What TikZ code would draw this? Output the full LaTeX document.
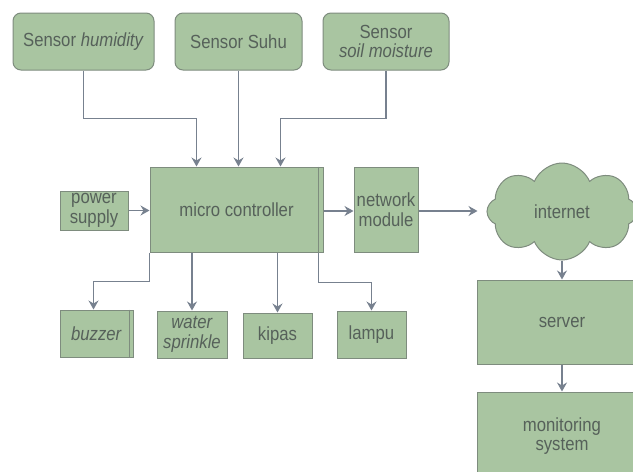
\documentclass[tikz,border=0pt]{standalone}
\usepackage{fontspec}
\setmainfont[FakeStretch=0.88]{Liberation Sans}
\usetikzlibrary{arrows.meta,shapes.symbols,calc}
\definecolor{boxfill}{HTML}{A9C5A1}
\definecolor{boxline}{HTML}{7E8C7E}
\definecolor{arrcol}{HTML}{77818F}
\definecolor{txt}{HTML}{56615A}
\tikzset{
  blk/.style={draw=boxline, fill=boxfill, line width=1pt, inner sep=0pt, align=center,
    text=txt, font=\fontsize{19}{19.5}\selectfont},
  rblk/.style={blk, rounded corners=8pt},
  arr/.style={draw=arrcol, line width=1.3pt, -{Stealth[length=9pt,width=10pt,inset=3pt]}},
}
\begin{document}
\begin{tikzpicture}[x=1pt,y=-1pt]
\useasboundingbox (0,0) rectangle (633,472);
\clip (0,0) rectangle (633,472);
% sensors
\node[rblk, minimum width=141pt, minimum height=57pt] (hum) at (83.5,41.5) {Sensor \textit{humidity}};
\node[rblk, minimum width=127pt, minimum height=57pt] (suhu) at (238.5,41.5) {Sensor Suhu};
\node[rblk, minimum width=126pt, minimum height=57pt] (soil) at (386,41.5) {Sensor\\\textit{soil moisture}};
% main row
\node[blk, minimum width=173pt, minimum height=85pt] (mc) at (236.5,209.5) {micro controller};
\draw[boxline, line width=1pt] ([xshift=-5pt]mc.north east) -- ([xshift=-5pt]mc.south east);
\node[blk, minimum width=68pt, minimum height=39pt] (ps) at (94,210.5) {power\\supply};
\node[blk, minimum width=64pt, minimum height=85pt] (nm) at (386,209.5) {network\\module};
\node[cloud, cloud puffs=8, cloud puff arc=135, cloud ignores aspect, draw=boxline, fill=boxfill,
  line width=1pt, minimum width=150pt, minimum height=97pt, inner sep=0pt, text=txt,
  font=\fontsize{19}{19.5}\selectfont] (cloud) at (562,211.5) {internet};
\node[blk, minimum width=170pt, minimum height=84pt] (server) at (562,322) {server};
\node[blk, minimum width=170pt, minimum height=88pt] (mon) at (562,436) {monitoring\\system};
% actuators
\node[blk, minimum width=73pt, minimum height=47pt] (buzzer) at (96.5,333.5) {\textit{buzzer}};
\draw[boxline, line width=1pt] ([xshift=-4pt]buzzer.north east) -- ([xshift=-4pt]buzzer.south east);
\node[blk, minimum width=70pt, minimum height=47pt] (water) at (192,334.5) {\textit{water}\\\textit{sprinkle}};
\node[blk, minimum width=69pt, minimum height=45pt] (kipas) at (277.5,335.5) {kipas};
\node[blk, minimum width=69pt, minimum height=47pt] (lampu) at (371.5,334.5) {lampu};
% connectors
\draw[arr] (hum.south) -- ++(0,48) -| ([xshift=47pt]mc.north west);
\draw[arr] (suhu.south) -- (suhu.south |- mc.north);
\draw[arr] (soil.south) -- ++(0,48) -| ([xshift=131pt]mc.north west);
\draw[arr] (ps.east) -- (ps.east -| mc.west);
\draw[arr] ([yshift=-1.5pt]mc.east) -- ([yshift=-1.5pt]nm.west);
\draw[arr, shorten >=9pt] ([yshift=-1.5pt]nm.east) -- ([yshift=-1.5pt]nm.east -| cloud.west);
\draw[arr] (cloud.south) -- (server.north);
\draw[arr] (server.south) -- (mon.north);
\draw[arr] (mc.south west) -- ++(0,29) -| ([xshift=34pt]buzzer.north west);
\draw[arr] (water.north |- mc.south) -- (water.north);
\draw[arr] (kipas.north |- mc.south) -- (kipas.north);
\draw[arr] ([xshift=-5pt]mc.south east) -- ++(0,30) -| (lampu.north);
\end{tikzpicture}
\end{document}
